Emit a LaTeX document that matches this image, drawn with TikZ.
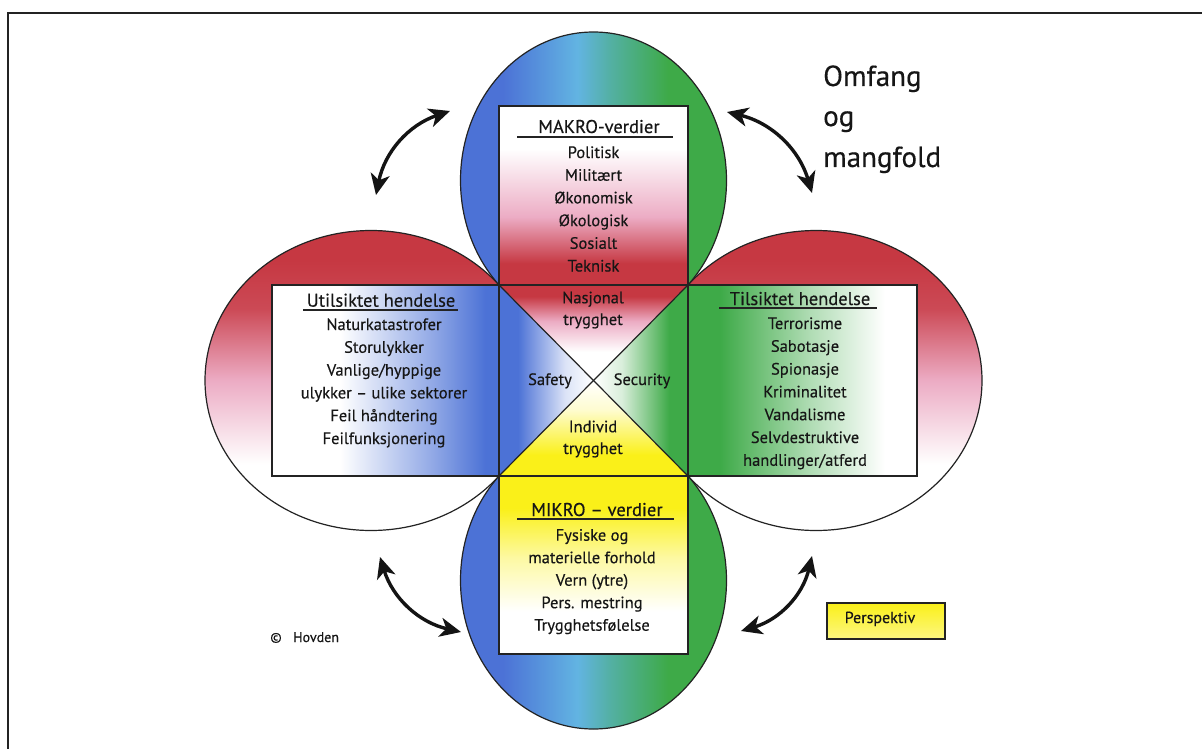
\documentclass[tikz,border=0pt]{standalone}
\usepackage{fontspec}
\setmainfont{PT Sans}
\newfontfamily\dfont{PT Sans}[FakeBold=0.35]
\usetikzlibrary{arrows.meta}
\definecolor{bl}{RGB}{76,114,214}
\definecolor{cy}{RGB}{98,180,226}
\definecolor{gr}{RGB}{62,170,72}
\definecolor{rd}{RGB}{198,56,66}
\definecolor{pk}{RGB}{236,172,196}
\definecolor{yl}{RGB}{250,240,25}
\definecolor{txt}{RGB}{22,22,22}
\definecolor{lin}{RGB}{35,35,35}
% horizontal: 0bp = left ; vertical: 0bp = bottom ; path bbox = 25bp..75bp
\pgfdeclarehorizontalshading{vertell}{100bp}{color(0bp)=(bl); color(25bp)=(bl); color(33bp)=(bl); color(47bp)=(cy); color(53bp)=(cy!60!gr); color(64bp)=(gr); color(75bp)=(gr); color(100bp)=(gr)}
\pgfdeclareverticalshading{sideell}{100bp}{color(0bp)=(white); color(25bp)=(white); color(36bp)=(white); color(50bp)=(pk); color(62bp)=(rd!85!pk); color(70bp)=(rd); color(75bp)=(rd); color(100bp)=(rd)}
\pgfdeclareverticalshading{makrobox}{100bp}{color(0bp)=(rd); color(25bp)=(rd); color(31bp)=(rd); color(44bp)=(pk); color(63bp)=(white); color(75bp)=(white); color(100bp)=(white)}
\pgfdeclareverticalshading{mikrobox}{100bp}{color(0bp)=(white); color(25bp)=(white); color(37bp)=(white); color(52bp)=(yl!40); color(66bp)=(yl); color(75bp)=(yl); color(100bp)=(yl)}
\pgfdeclarehorizontalshading{leftbox}{100bp}{color(0bp)=(white); color(25bp)=(white); color(40bp)=(white); color(60bp)=(bl!60); color(72bp)=(bl); color(75bp)=(bl); color(100bp)=(bl)}
\pgfdeclarehorizontalshading{rightbox}{100bp}{color(0bp)=(gr); color(25bp)=(gr); color(32bp)=(gr); color(52bp)=(gr!40); color(68bp)=(white); color(75bp)=(white); color(100bp)=(white)}
\pgfdeclareverticalshading{toptri}{100bp}{color(0bp)=(white); color(25bp)=(white); color(40bp)=(white); color(56bp)=(pk); color(69bp)=(rd); color(75bp)=(rd); color(100bp)=(rd)}
\pgfdeclareverticalshading{bottri}{100bp}{color(0bp)=(yl); color(25bp)=(yl); color(36bp)=(yl); color(60bp)=(yl!20); color(75bp)=(white); color(100bp)=(white)}
\pgfdeclarehorizontalshading{lefttri}{100bp}{color(0bp)=(bl); color(25bp)=(bl); color(35bp)=(bl); color(60bp)=(bl!20); color(75bp)=(white); color(100bp)=(white)}
\pgfdeclarehorizontalshading{righttri}{100bp}{color(0bp)=(white); color(25bp)=(white); color(40bp)=(gr!20); color(65bp)=(gr); color(75bp)=(gr); color(100bp)=(gr)}
\pgfdeclareverticalshading{perbox}{100bp}{color(0bp)=(yl!55); color(25bp)=(yl!55); color(75bp)=(yl); color(100bp)=(yl)}
\tikzset{
  lst/.style={font=\dfont\fontsize{16.5}{20}\selectfont, anchor=base, inner sep=0pt, text=txt},
  hdr/.style={font=\dfont\fontsize{18.5}{20}\selectfont, anchor=base, inner sep=0pt, text=txt},
  big/.style={font=\dfont\fontsize{29}{32}\selectfont, anchor=base west, inner sep=0pt, text=txt},
  outl/.style={draw=lin, line width=1.2pt},
  ulin/.style={draw=lin, line width=1.1pt},
  dblarrow/.style={line width=3.4pt, draw=black!92, {Stealth[length=21pt,width=19pt,inset=6pt]}-{Stealth[length=21pt,width=19pt,inset=6pt]}},
}
\begin{document}
\begin{tikzpicture}[x=1pt,y=-1pt]
\path[use as bounding box, fill=white] (0,0) rectangle (1202,749);
% frame
\draw[line width=1.2pt, lin] (8,749) -- (8,13) -- (1202,13);
% corner coordinates
\coordinate (TL) at (499,285);
\coordinate (TR) at (688,285);
\coordinate (BL) at (499,476);
\coordinate (BR) at (688,476);
\coordinate (C) at (593.5,380.5);
% side ellipses
\shade[shading=sideell] (371,380.5) ellipse [x radius=166pt, y radius=150pt];
\draw[outl] (371,380.5) ellipse [x radius=166pt, y radius=150pt];
\shade[shading=sideell] (816,380.5) ellipse [x radius=166pt, y radius=150pt];
\draw[outl] (816,380.5) ellipse [x radius=166pt, y radius=150pt];
% top and bottom ellipses
\shade[shading=vertell] (593.5,180.5) ellipse [x radius=133pt, y radius=148.5pt];
\draw[outl] (593.5,180.5) ellipse [x radius=133pt, y radius=148.5pt];
\shade[shading=vertell] (593.5,580.5) ellipse [x radius=133pt, y radius=148.5pt];
\draw[outl] (593.5,580.5) ellipse [x radius=133pt, y radius=148.5pt];
% boxes
\shade[shading=makrobox] (499,106) rectangle (688,285);
\draw[outl] (499,106) rectangle (688,285);
\shade[shading=mikrobox] (499,476) rectangle (688,654);
\draw[outl] (499,476) rectangle (688,654);
\shade[shading=leftbox] (272,285) rectangle (499,476);
\draw[outl] (272,285) rectangle (499,476);
\shade[shading=rightbox] (688,285) rectangle (917,476);
\draw[outl] (688,285) rectangle (917,476);
% centre triangles
\shade[shading=toptri] (TL) -- (TR) -- (C) -- cycle;
\shade[shading=bottri] (BL) -- (BR) -- (C) -- cycle;
\shade[shading=lefttri] (TL) -- (BL) -- (C) -- cycle;
\shade[shading=righttri] (TR) -- (BR) -- (C) -- cycle;
\draw[outl] (TL) rectangle (BR);
\draw[outl] (TL) -- (BR);
\draw[outl] (TR) -- (BL);
% MAKRO
\node[hdr] (mkh) at (599,133) {MAKRO-verdier};
\draw[ulin] (517,137) -- (673,137);
\foreach \t [count=\i from 0] in {Politisk,Militært,Økonomisk,Økologisk,Sosialt,Teknisk}
  \node[lst] (mk\i) at (593.5,{158+22.7*\i}) {\t};
% Utilsiktet
\node[hdr] (uh) at (381,306.7) {Utilsiktet hendelse};
\draw[ulin] (303,310) -- (458,310);
\foreach \t [count=\i from 0] in {Naturkatastrofer,Storulykker,Vanlige/hyppige,{ulykker – ulike sektorer},Feil håndtering,Feilfunksjonering}
  \node[lst] (ut\i) at (384,{330+22.8*\i}) {\t};
% Tilsiktet
\node[hdr] (th) at (800,305) {Tilsiktet hendelse};
\draw[ulin] (719,308) -- (877,308);
\foreach \t [count=\i from 0] in {Terrorisme,Sabotasje,Spionasje,Kriminalitet,Vandalisme,Selvdestruktive,handlinger/atferd}
  \node[lst] (ti\i) at (805,{329+22.8*\i}) {\t};
% MIKRO
\node[hdr] (mih) at (597,516) {MIKRO – verdier};
\draw[ulin] (517,519) -- (674,519);
\foreach \t [count=\i from 0] in {Fysiske og,materielle forhold,{Vern (ytre)},Pers. mestring,Trygghetsfølelse}
  \node[lst] (mi\i) at (592,{540.7+22.5*\i}) {\t};
% centre labels
\node[lst] (nas1) at (593,303.3) {Nasjonal};
\node[lst] (nas2) at (593,325) {trygghet};
\node[lst] (saf) at (550,385) {Safety};
\node[lst] (sec) at (642,385) {Security};
\node[lst] (ind1) at (593,432.3) {Individ};
\node[lst] (ind2) at (593,454) {trygghet};
% Omfang og mangfold
\node[big] (om1) at (823,86) {Omfang};
\node[big] (om2) at (823,126) {og};
\node[big] (om3) at (823,167) {mangfold};
% Perspektiv
\shade[shading=perbox] (827,603) rectangle (945,639);
\draw[outl] (827,603) rectangle (945,639);
\node[font=\dfont\fontsize{16}{18}\selectfont, anchor=base, inner sep=0pt, text=txt] (per) at (880,623) {Perspektiv};
% copyright
\node[font=\dfont\fontsize{14}{16}\selectfont, anchor=base, inner sep=0pt, text=txt] (cops) at (276,642) {©};
\node[font=\dfont\fontsize{14}{16}\selectfont, anchor=base west, inner sep=0pt, text=txt] (cop) at (293,642) {Hovden};
% arrows
\coordinate (a1s) at (376,195);
\coordinate (a1e) at (450,111);
\coordinate (a2s) at (727,112);
\coordinate (a2e) at (812,193);
\coordinate (a3s) at (380,557);
\coordinate (a3e) at (461,632);
\coordinate (a4s) at (812,556);
\coordinate (a4e) at (741,631);
\draw[dblarrow] (a1s) to[bend left=30] (a1e);
\draw[dblarrow] (a2s) to[bend left=30] (a2e);
\draw[dblarrow] (a3s) to[bend right=30] (a3e);
\draw[dblarrow] (a4s) to[bend left=30] (a4e);
\end{tikzpicture}
\end{document}
